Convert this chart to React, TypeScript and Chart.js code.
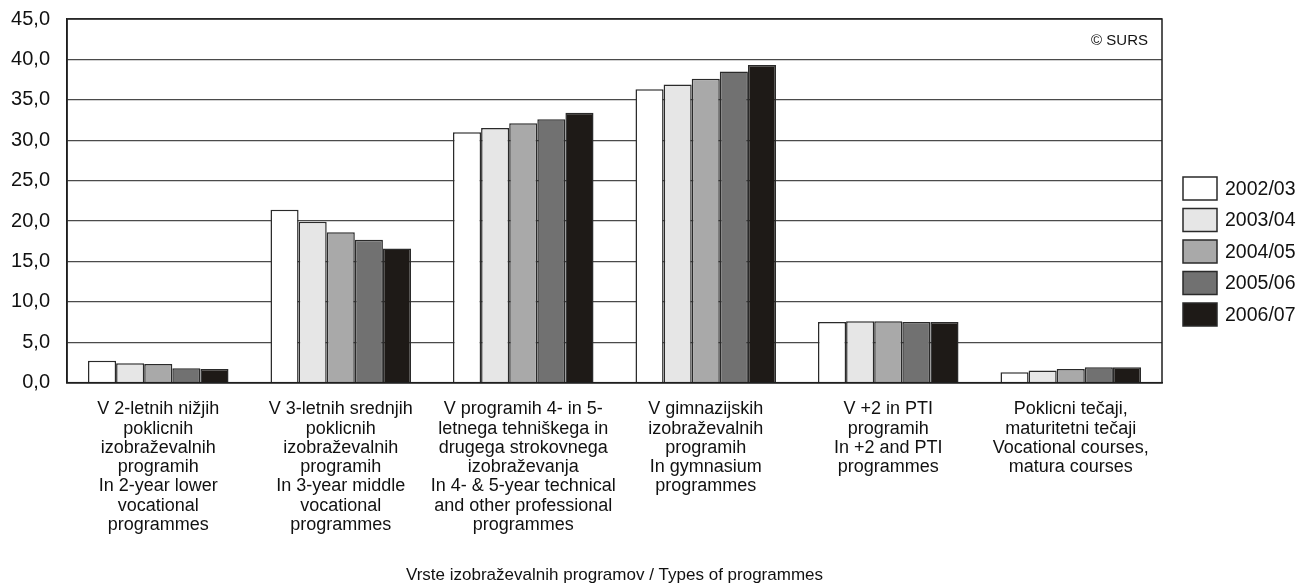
import React, { useEffect, useRef } from "react";
import { Chart, registerables } from "chart.js";

Chart.register(...registerables);

const categories: string[][] = [
  ["V 2-letnih nižjih", "poklicnih", "izobraževalnih", "programih", "In 2-year lower", "vocational", "programmes"],
  ["V 3-letnih srednjih", "poklicnih", "izobraževalnih", "programih", "In 3-year middle", "vocational", "programmes"],
  ["V programih 4- in 5-", "letnega tehniškega in", "drugega strokovnega", "izobraževanja", "In 4- & 5-year technical", "and other professional", "programmes"],
  ["V gimnazijskih", "izobraževalnih", "programih", "In gymnasium", "programmes"],
  ["V +2 in PTI", "programih", "In +2 and PTI", "programmes"],
  ["Poklicni tečaji,", "maturitetni tečaji", "Vocational courses,", "matura courses"],
];

const seriesLabels = ["2002/03", "2003/04", "2004/05", "2005/06", "2006/07"];
const s2002 = [2.7, 21.4, 31.0, 36.3, 7.5, 1.3];
const s2003 = [2.4, 19.9, 31.5, 36.9, 7.6, 1.5];
const s2004 = [2.3, 18.6, 32.1, 37.6, 7.6, 1.7];
const s2005 = [1.8, 17.7, 32.6, 38.5, 7.5, 1.9];
const s2006 = [1.7, 16.6, 33.4, 39.3, 7.5, 1.9];
const seriesColors = ["#ffffff", "#e6e6e6", "#a9a9a9", "#717171", "#1e1a17"];

const xTitle = "Vrste izobraževalnih programov / Types of programmes";
const yMin = 0;
const yMax = 45;
const yStep = 5;
const copyright = "© SURS";

const FONT = "'Liberation Sans', Arial, sans-serif";

const framePlugin = {
  id: "frameAndLegend",
  afterDraw(chart: any) {
    const { ctx, chartArea } = chart;
    ctx.save();
    ctx.strokeStyle = "#1e1e1e";
    ctx.lineWidth = 1.5;
    ctx.strokeRect(chartArea.left, chartArea.top, chartArea.right - chartArea.left, chartArea.bottom - chartArea.top);
    ctx.fillStyle = "#111";
    ctx.font = `15px ${FONT}`;
    ctx.textAlign = "right";
    ctx.textBaseline = "middle";
    ctx.fillText(copyright, chartArea.right - 14, chartArea.top + 22);
    const ds = chart.data.datasets;
    const bx = chartArea.right + 21;
    const bw = 34;
    const bh = 23;
    const gap = 31.5;
    const y0 = 177;
    ctx.font = `19.5px ${FONT}`;
    ctx.textAlign = "left";
    ds.forEach((d: any, i: number) => {
      const y = y0 + i * gap;
      ctx.fillStyle = d.backgroundColor;
      ctx.fillRect(bx, y, bw, bh);
      ctx.strokeStyle = "#2a2a2a";
      ctx.lineWidth = 1.5;
      ctx.strokeRect(bx, y, bw, bh);
      ctx.fillStyle = "#111";
      ctx.fillText(d.label, bx + bw + 8, y + bh / 2 + 1);
    });
    ctx.restore();
  },
};

export default function App() {
  const ref = useRef<HTMLCanvasElement | null>(null);
  useEffect(() => {
    if (!ref.current) return;
    const all = [s2002, s2003, s2004, s2005, s2006];
    const chart = new Chart(ref.current, {
      type: "bar",
      data: {
        labels: categories,
        datasets: all.map((vals, i) => ({
          label: seriesLabels[i],
          data: vals,
          backgroundColor: seriesColors[i],
          borderColor: "#2a2a2a",
          borderWidth: 1.5,
          categoryPercentage: 0.77,
          barPercentage: 1.0,
        })),
      },
      options: {
        responsive: false,
        animation: false,
        devicePixelRatio: 1,
        layout: { padding: { top: 0, right: 152, bottom: 0, left: 0 } },
        plugins: {
          legend: { display: false },
          tooltip: { enabled: false },
          title: { display: false },
        },
        scales: {
          x: {
            grid: { display: false, drawTicks: false },
            border: { display: true, color: "#1e1e1e", width: 1.5 },
            ticks: {
              maxRotation: 0,
              minRotation: 0,
              autoSkip: false,
              padding: 17,
              color: "#111",
              font: { family: FONT, size: 18, lineHeight: 1.07 },
            },
            title: {
              display: true,
              text: xTitle,
              color: "#111",
              font: { family: FONT, size: 17, lineHeight: 1.0 },
              padding: { top: 15.5, bottom: 0 },
            },
          },
          y: {
            min: yMin,
            max: yMax,
            afterFit: (scale: any) => {
              scale.width = 67;
              scale.paddingTop = 19;
            },
            ticks: {
              stepSize: yStep,
              padding: 17,
              color: "#111",
              font: { family: FONT, size: 20, lineHeight: 0.6 },
              callback: (v: any) => Number(v).toFixed(1).replace(".", ","),
            },
            grid: { color: "#4a4a4a", lineWidth: 1.2, drawTicks: false },
            border: { display: true, color: "#1e1e1e", width: 1.5 },
          },
        },
      },
      plugins: [framePlugin],
    });
    return () => chart.destroy();
  }, []);
  return (
    <div style={{ position: "absolute", left: 0, top: 0, width: 1314, height: 584, background: "#fff" }}>
      <canvas ref={ref} width={1314} height={584} style={{ display: "block" }} />
    </div>
  );
}
